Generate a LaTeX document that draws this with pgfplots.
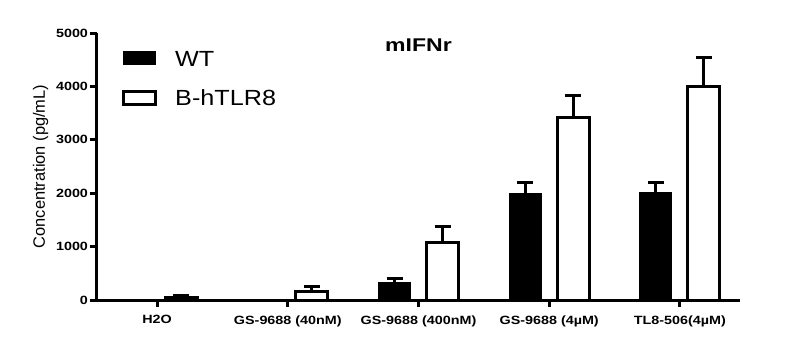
\documentclass[border=0pt]{standalone}
\usepackage{fontspec}
\setmainfont{Liberation Sans}
\newfontfamily\tickf[FakeStretch=1.2]{Liberation Sans}
\newfontfamily\titlef[FakeStretch=1.25]{Liberation Sans}
\newfontfamily\legf[FakeStretch=1.15]{Liberation Sans}
\usepackage{pgfplots}
\pgfplotsset{compat=1.18}
\begin{document}
\begin{tikzpicture}
\path[use as bounding box] (-97bp,-54bp) rectangle (701bp,300bp);
\begin{axis}[
  at={(0,0)}, anchor=south west,
  scale only axis, width=643bp, height=267bp,
  xmin=-0.46, xmax=4.46, ymin=0, ymax=5000,
  axis lines*=left,
  axis line style={line width=3bp, black},
  every tick/.style={line width=3bp, black},
  tick align=outside, major tick length=7bp,
  xtick={0,1,2,3,4},
  xticklabels={H2O, GS-9688 (40nM), GS-9688 (400nM), GS-9688 (4µM), TL8-506(4µM)},
  ytick={0,1000,2000,3000,4000,5000},
  /pgf/number format/assume math mode=true,
  /pgf/number format/1000 sep={},
  ticklabel style={font=\tickf\bfseries\fontsize{12}{13}\selectfont},
  xticklabel style={yshift=-5bp},
  yticklabel style={xshift=1.5bp},
  ylabel={Concentration (pg/mL)},
  ylabel style={at={(rel axis cs:0,0.5)}, anchor=base, yshift=52bp, font=\fontsize{16.5}{18}\selectfont},
  title={mIFNr},
  title style={at={(rel axis cs:0.5,1)}, anchor=base, yshift=-24bp, font=\titlef\bfseries\fontsize{18.5}{20}\selectfont},
  ybar=16bp, bar width=32bp,
  legend style={at={(rel axis cs:0,1)}, anchor=north west, xshift=25bp, yshift=-17bp,
    draw=none, fill=none, inner sep=0pt, column sep=18bp, row sep=23.5bp,
    nodes={inner sep=0pt, text height=16bp, text depth=0pt},
    font=\legf\fontsize{22}{24}\selectfont},
  legend cell align=left,
  legend image code/.code={\draw[#1] (0bp,-6.5bp) rectangle (32bp,6.5bp);},
  error bars/error bar style={line width=3bp, black},
  error bars/error mark options={rotate=90, mark size=8bp, line width=3bp, black},
]
\addplot[fill=black, draw=black, line width=1bp,
  error bars/.cd, y dir=plus, y explicit]
  coordinates {(0,0) +- (0,0) (1,0) +- (0,0) (2,325) +- (0,75) (3,1998) +- (0,206) (4,2017) +- (0,180)};
\addplot[fill=white, draw=black, line width=3bp,
  error bars/.cd, y dir=plus, y explicit]
  coordinates {(0,50) +- (0,35) (1,160) +- (0,90) (2,1073) +- (0,300) (3,3421) +- (0,405) (4,3995) +- (0,550)};
\legend{WT, B-hTLR8}
\end{axis}
\end{tikzpicture}
\end{document}
